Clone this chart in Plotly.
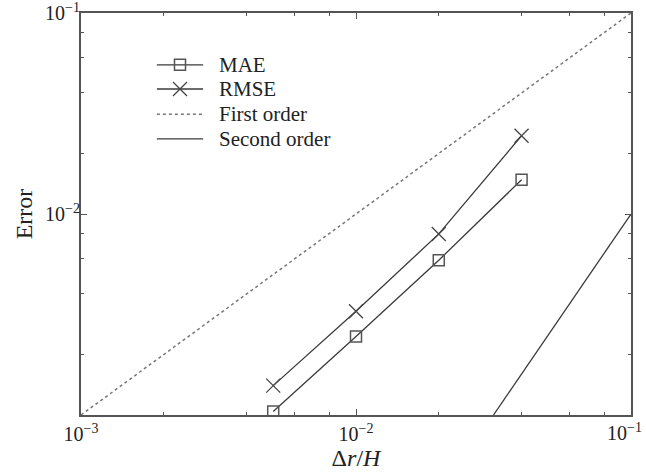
import plotly.graph_objects as go

# Grid spacing (normalised) and measured errors
dr_over_h = [0.005, 0.01, 0.02, 0.04]
mae = [0.00104, 0.00246, 0.00589, 0.0148]
rmse = [0.00140, 0.00328, 0.00796, 0.0245]

# Reference convergence slopes
first_order_x = [1e-3, 1e-1]
first_order_y = [1e-3, 1e-1]
second_order_x = [10 ** -1.5, 1e-1]
second_order_y = [1e-3, 1e-2]

x_tickvals = [1e-3, 1e-2, 1e-1]
x_ticktext = ["10<sup>\u22123</sup>", "10<sup>\u22122</sup>", "10<sup>\u22121</sup>"]
y_tickvals = [1e-2, 1e-1]
y_ticktext = ["10<sup>\u22122</sup>", "10<sup>\u22121</sup>"]
minor_vals = [m * 10 ** e for e in (-3, -2) for m in (2, 4, 6, 8)]

legend_names = ["MAE", "RMSE", "First order", "Second order"]

line_col = "#3a3a3a"
frame_col = "#555555"
text_col = "#222222"
font_family = "Liberation Serif, Times New Roman, serif"

styles = {
    "MAE": dict(line=dict(color=line_col, width=1.3),
                marker=dict(symbol="square-open", size=11, color="#555555", line=dict(width=1.5))),
    "RMSE": dict(line=dict(color=line_col, width=1.3),
                 marker=dict(symbol="x-thin-open", size=14, color="#444444", line=dict(width=1.3))),
    "First order": dict(line=dict(color="#777777", width=1.5, dash="dot"), marker=None),
    "Second order": dict(line=dict(color=line_col, width=1.3), marker=None),
}

fig = go.Figure()
fig.add_trace(go.Scatter(x=dr_over_h, y=mae, name="MAE", mode="lines+markers",
                         line=styles["MAE"]["line"], marker=styles["MAE"]["marker"]))
fig.add_trace(go.Scatter(x=dr_over_h, y=rmse, name="RMSE", mode="lines+markers",
                         line=styles["RMSE"]["line"], marker=styles["RMSE"]["marker"]))
fig.add_trace(go.Scatter(x=first_order_x, y=first_order_y, name="First order", mode="lines",
                         line=styles["First order"]["line"]))
fig.add_trace(go.Scatter(x=second_order_x, y=second_order_y, name="Second order", mode="lines",
                         line=styles["Second order"]["line"]))

# Key drawn on an overlay axis spanning the plot area (0..1 in both directions)
key_x0, key_x1, key_text_x = 0.138, 0.222, 0.247
key_rows = [0.871, 0.811, 0.748, 0.687]
for name, ky in zip(legend_names, key_rows):
    st = styles[name]
    fig.add_trace(go.Scatter(x=[key_x0, key_x1], y=[ky, ky], mode="lines", line=st["line"],
                             xaxis="x2", yaxis="y2", showlegend=False, hoverinfo="skip"))
    if st["marker"] is not None:
        fig.add_trace(go.Scatter(x=[(key_x0 + key_x1) / 2], y=[ky], mode="markers", marker=st["marker"],
                                 xaxis="x2", yaxis="y2", showlegend=False, hoverinfo="skip"))
    fig.add_annotation(x=key_text_x, y=ky, xref="x2", yref="y2", text=name, showarrow=False,
                       xanchor="left", yanchor="middle",
                       font=dict(family=font_family, size=21, color=text_col))

# The last x tick label sits flush with the right edge, so it is placed as a
# right-anchored annotation at that tick instead of a centred tick label.
x_ticktext_drawn = x_ticktext[:-1] + [""]
fig.add_annotation(x=-1, y=0, xref="x", yref="paper", text=x_ticktext[-1], showarrow=False,
                   xanchor="right", yanchor="top", xshift=13, yshift=-3,
                   font=dict(family=font_family, size=20, color=text_col))

axis_common = dict(
    type="log", range=[-3, -1], showgrid=False, zeroline=False, automargin=False,
    showline=True, linecolor=frame_col, linewidth=2, mirror="allticks",
    ticks="inside", ticklen=6, tickwidth=1.3, tickcolor=frame_col,
    tickfont=dict(family=font_family, size=20, color=text_col),
    ticklabeloverflow="allow",
)
minor_common = dict(tickvals=minor_vals, ticks="inside", ticklen=3, tickwidth=1.3, tickcolor=frame_col)

fig.update_layout(
    xaxis=dict(**axis_common, tickvals=x_tickvals, ticktext=x_ticktext_drawn, minor=minor_common,
               title=dict(text="\u0394<i>r</i>/<i>H</i>",
                          font=dict(family=font_family, size=24, color=text_col), standoff=0)),
    yaxis=dict(**axis_common, tickvals=y_tickvals, ticktext=y_ticktext, minor=minor_common,
               ticklabelstandoff=-5,
               title=dict(text="Error", font=dict(family=font_family, size=24, color=text_col), standoff=6)),
    xaxis2=dict(overlaying="x", range=[0, 1], visible=False, fixedrange=True, automargin=False),
    yaxis2=dict(overlaying="y", range=[0, 1], visible=False, fixedrange=True, automargin=False),
    width=646, height=472,
    margin=dict(l=81, r=15, t=13, b=57, autoexpand=False),
    paper_bgcolor="white", plot_bgcolor="white",
    showlegend=False,
)

fig.write_html("out.html")
